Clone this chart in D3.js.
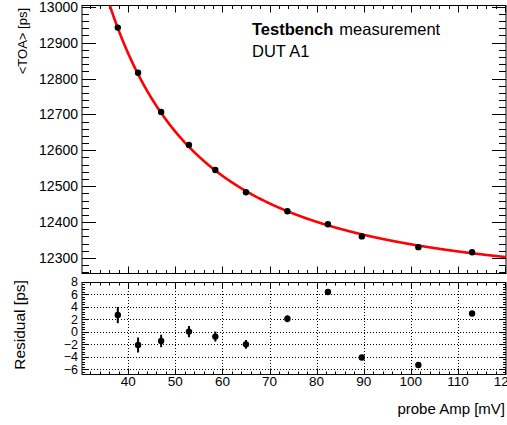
<!DOCTYPE html>
<html><head><meta charset="utf-8">
<script src="https://cdn.jsdelivr.net/npm/d3@7"></script>
<style>
html,body{margin:0;padding:0;background:#fff;}
svg{display:block;font-family:"Liberation Sans",Arial,Helvetica,sans-serif;}
</style></head>
<body>
<svg id="c" width="507" height="425"></svg>
<script>
// ---- data ----
const amp      = [37.8, 42.1, 47.0, 52.9, 58.5, 65.0, 73.8, 82.4, 89.6, 101.6, 113.0];
const meanTOA  = [12942, 12816, 12707, 12615, 12545, 12483, 12430, 12394, 12360, 12330, 12316];
const residual = [2.7, -2.1, -1.45, 0.05, -0.75, -2.0, 2.1, 6.4, -4.1, -5.3, 2.95];
const resErr   = [1.3, 1.2, 1.0, 0.9, 0.8, 0.7, 0.55, 0.45, 0.3, 0.25, 0.25];
// fit: TOA = p0 + p1 * amp^(-p2)
const fitParams = [12211.5, 503900, 1.8];
const topTicks = [12300, 12400, 12500, 12600, 12700, 12800, 12900, 13000];
const resTicks = [-6, -4, -2, 0, 2, 4, 6, 8];
const xTicks   = [40, 50, 60, 70, 80, 90, 100, 110, 120];

const svg = d3.select("#c");
const L = 82, R = 506;
const x = d3.scaleLinear().domain([30.2, 120.2]).range([L, R]);
const yTop = d3.scaleLinear().domain([12258, 13005]).range([273, 5]);
const yRes = d3.scaleLinear().domain([-6.75, 8]).range([374, 282]);

function frame(y0, y1) {
  svg.append("rect").attr("x", L).attr("y", y0).attr("width", R - L).attr("height", y1 - y0)
    .attr("fill", "none").attr("stroke", "#000").attr("stroke-width", 1);
}
function ticksY(scale, majors, minorStep, majLen, minLen) {
  const g = svg.append("g").attr("stroke", "#000").attr("stroke-width", 1);
  const [d0, d1] = scale.domain();
  const mins = d3.range(Math.ceil(d0 / minorStep) * minorStep, d1 + 1e-9, minorStep);
  mins.forEach(v => {
    const isMaj = majors.some(m => Math.abs(m - v) < 1e-6);
    const len = isMaj ? majLen : minLen;
    const yy = Math.round(scale(v)) + 0.5;
    g.append("line").attr("x1", L).attr("x2", L + len).attr("y1", yy).attr("y2", yy);
    g.append("line").attr("x1", R).attr("x2", R - len).attr("y1", yy).attr("y2", yy);
  });
}
function ticksX(yT, yB, majLen, minLen) {
  const g = svg.append("g").attr("stroke", "#000").attr("stroke-width", 1);
  const [d0, d1] = x.domain();
  const mins = d3.range(Math.ceil(d0 / 2) * 2, d1 + 1e-9, 2);
  mins.forEach(v => {
    const isMaj = Math.abs(v % 10) < 1e-6;
    const len = isMaj ? majLen : minLen;
    const xx = Math.round(x(v)) + 0.5;
    g.append("line").attr("x1", xx).attr("x2", xx).attr("y1", yT).attr("y2", yT + len);
    g.append("line").attr("x1", xx).attr("x2", xx).attr("y1", yB).attr("y2", yB - len);
  });
}

// ---- top pad ----
frame(5.5, 273.5);
ticksY(yTop, topTicks, 20, 14, 7);
ticksX(5.5, 273.5, 7, 3.5);
svg.append("g").selectAll("text").data(topTicks).join("text")
  .attr("x", 78).attr("y", d => yTop(d) + 5).attr("text-anchor", "end")
  .attr("font-size", 14).text(d => d);

// fit curve
const fit = a => fitParams[0] + fitParams[1] * Math.pow(a, -fitParams[2]);
svg.append("clipPath").attr("id", "clipTop").append("rect")
  .attr("x", L).attr("y", 5.5).attr("width", R - L).attr("height", 268);
const xs = d3.range(30.2, 120.21, 0.1);
svg.append("path").attr("clip-path", "url(#clipTop)")
  .attr("d", d3.line().x(a => x(a)).y(a => yTop(fit(a)))(xs))
  .attr("fill", "none").attr("stroke", "#ff0000").attr("stroke-width", 2.6);
svg.append("g").selectAll("circle").data(amp).join("circle")
  .attr("cx", d => x(d)).attr("cy", (d, i) => yTop(meanTOA[i])).attr("r", 3.2).attr("fill", "#000");

// labels
svg.append("text").attr("transform", "translate(27,8) rotate(-90)").attr("text-anchor", "end")
  .attr("font-size", 13).text("<TOA> [ps]");
const t1 = svg.append("text").attr("x", 252).attr("y", 35).attr("font-size", 16.5);
t1.append("tspan").attr("font-weight", "bold").text("Testbench");
t1.append("tspan").attr("dx", 6).text("measurement");
svg.append("text").attr("x", 252).attr("y", 57).attr("font-size", 16.5).text("DUT A1");

// ---- residual pad ----
const grid = svg.append("g").attr("stroke", "#000").attr("stroke-width", 1).attr("stroke-dasharray", "1,2");
xTicks.filter(v => v < 120).forEach(v => {
  const xx = Math.round(x(v)) + 0.5;
  grid.append("line").attr("x1", xx).attr("x2", xx).attr("y1", 282).attr("y2", 374);
});
resTicks.filter(v => v < 8).forEach(v => {
  const yy = Math.round(yRes(v)) + 0.5;
  grid.append("line").attr("x1", L).attr("x2", R).attr("y1", yy).attr("y2", yy);
});
frame(282.5, 374.5);
ticksY(yRes, resTicks, 0.4, 6, 3);
ticksX(282.5, 374.5, 6, 3);
svg.append("g").selectAll("text").data(resTicks).join("text")
  .attr("x", 78).attr("y", d => yRes(d) + 4.3).attr("text-anchor", "end")
  .attr("font-size", 12.5).text(d => d < 0 ? "\u2212" + Math.abs(d) : d);
svg.append("g").selectAll("text").data(xTicks).join("text")
  .attr("x", d => x(d)).attr("y", 386).attr("text-anchor", "middle")
  .attr("font-size", 13.5).text(d => d);

svg.append("g").selectAll("line").data(amp).join("line")
  .attr("x1", d => x(d)).attr("x2", d => x(d))
  .attr("y1", (d, i) => yRes(residual[i] - resErr[i])).attr("y2", (d, i) => yRes(residual[i] + resErr[i]))
  .attr("stroke", "#000").attr("stroke-width", 2);
svg.append("g").selectAll("circle").data(amp).join("circle")
  .attr("cx", d => x(d)).attr("cy", (d, i) => yRes(residual[i])).attr("r", 3.2).attr("fill", "#000");

svg.append("text").attr("transform", "translate(25,325) rotate(-90)").attr("text-anchor", "middle")
  .attr("font-size", 15.5).text("Residual [ps]");
svg.append("text").attr("x", 505).attr("y", 414).attr("text-anchor", "end")
  .attr("font-size", 15).text("probe Amp [mV]");
</script>
</body></html>
